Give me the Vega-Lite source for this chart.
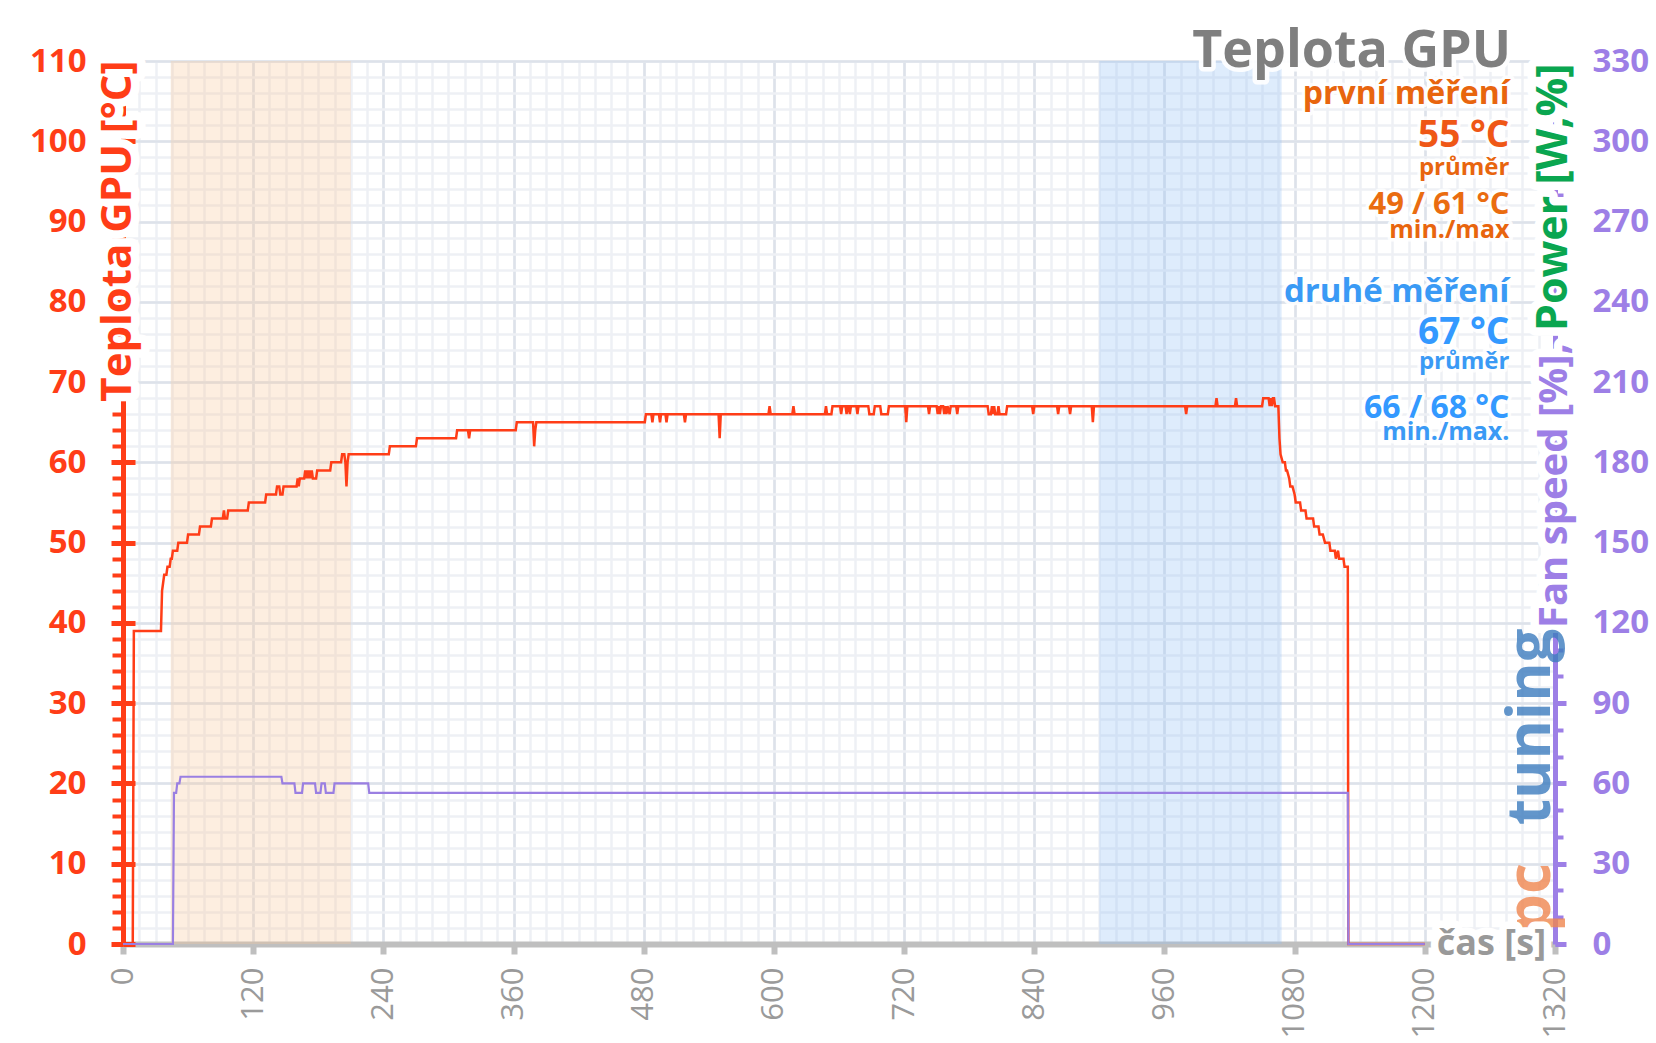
{
  "$schema": "https://vega.github.io/schema/vega-lite/v6.json",
  "width": 1432,
  "height": 883,
  "autosize": {"type": "none"},
  "padding": {"left": 123, "top": 61, "right": 101, "bottom": 99},
  "background": "white",
  "config": {"view": {"stroke": null}, "font": "Open Sans", "axis": {"labelFlush": false, "labelOverlap": false}},
  "datasets": {
    "temp": [
      {"t":0,"temp":0},{"t":9,"temp":0},{"t":10,"temp":39},{"t":35,"temp":39},{"t":36,"temp":44},{"t":37,"temp":45},{"t":38,"temp":46},{"t":40,"temp":46},{"t":41,"temp":47},{"t":43,"temp":47},{"t":44,"temp":48},{"t":45,"temp":48},{"t":46,"temp":49},{"t":50,"temp":49},{"t":51,"temp":50},{"t":59,"temp":50},{"t":60,"temp":51},{"t":70,"temp":51},{"t":71,"temp":52},{"t":81,"temp":52},{"t":82,"temp":53},{"t":92,"temp":53},{"t":93,"temp":54},{"t":94,"temp":53},{"t":96,"temp":53},{"t":97,"temp":54},{"t":115,"temp":54},{"t":116,"temp":55},{"t":131,"temp":55},{"t":132,"temp":56},{"t":141,"temp":56},{"t":142,"temp":57},{"t":144,"temp":57},{"t":145,"temp":56},{"t":147,"temp":56},{"t":148,"temp":57},{"t":160,"temp":57},{"t":161,"temp":58},{"t":162,"temp":57},{"t":163,"temp":58},{"t":167,"temp":58},{"t":168,"temp":59},{"t":169,"temp":58},{"t":170,"temp":59},{"t":171,"temp":58},{"t":172,"temp":59},{"t":173,"temp":58},{"t":174,"temp":59},{"t":175,"temp":58},{"t":178,"temp":58},{"t":179,"temp":59},{"t":191,"temp":59},{"t":192,"temp":60},{"t":201,"temp":60},{"t":202,"temp":61},{"t":204,"temp":61},{"t":205,"temp":60},{"t":206,"temp":57},{"t":207,"temp":60},{"t":208,"temp":61},{"t":245,"temp":61},{"t":246,"temp":62},{"t":270,"temp":62},{"t":271,"temp":63},{"t":307,"temp":63},{"t":308,"temp":64},{"t":318,"temp":64},{"t":319,"temp":63},{"t":320,"temp":64},{"t":362,"temp":64},{"t":363,"temp":65},{"t":378,"temp":65},{"t":379,"temp":62},{"t":380,"temp":64},{"t":381,"temp":65},{"t":481,"temp":65},{"t":482,"temp":66},{"t":487,"temp":66},{"t":488,"temp":65},{"t":489,"temp":66},{"t":494,"temp":66},{"t":495,"temp":65},{"t":496,"temp":66},{"t":500,"temp":66},{"t":501,"temp":65},{"t":502,"temp":66},{"t":517,"temp":66},{"t":518,"temp":65},{"t":519,"temp":66},{"t":549,"temp":66},{"t":550,"temp":63},{"t":551,"temp":66},{"t":595,"temp":66},{"t":596,"temp":67},{"t":597,"temp":66},{"t":617,"temp":66},{"t":618,"temp":67},{"t":619,"temp":66},{"t":647,"temp":66},{"t":648,"temp":67},{"t":649,"temp":66},{"t":653,"temp":66},{"t":654,"temp":67},{"t":661,"temp":67},{"t":662,"temp":66},{"t":663,"temp":67},{"t":666,"temp":67},{"t":667,"temp":66},{"t":668,"temp":67},{"t":669,"temp":67},{"t":670,"temp":66},{"t":671,"temp":67},{"t":676,"temp":67},{"t":677,"temp":66},{"t":678,"temp":67},{"t":687,"temp":67},{"t":688,"temp":66},{"t":692,"temp":66},{"t":693,"temp":67},{"t":698,"temp":67},{"t":699,"temp":66},{"t":705,"temp":66},{"t":706,"temp":67},{"t":721,"temp":67},{"t":722,"temp":65},{"t":723,"temp":67},{"t":742,"temp":67},{"t":743,"temp":66},{"t":744,"temp":67},{"t":750,"temp":67},{"t":751,"temp":66},{"t":752,"temp":67},{"t":753,"temp":66},{"t":754,"temp":67},{"t":756,"temp":67},{"t":757,"temp":66},{"t":758,"temp":67},{"t":759,"temp":66},{"t":760,"temp":67},{"t":762,"temp":66},{"t":763,"temp":67},{"t":768,"temp":67},{"t":769,"temp":66},{"t":770,"temp":67},{"t":797,"temp":67},{"t":798,"temp":66},{"t":800,"temp":66},{"t":801,"temp":67},{"t":802,"temp":66},{"t":803,"temp":67},{"t":804,"temp":66},{"t":806,"temp":66},{"t":807,"temp":67},{"t":808,"temp":66},{"t":814,"temp":66},{"t":815,"temp":67},{"t":838,"temp":67},{"t":839,"temp":66},{"t":840,"temp":67},{"t":861,"temp":67},{"t":862,"temp":66},{"t":863,"temp":67},{"t":872,"temp":67},{"t":873,"temp":66},{"t":874,"temp":67},{"t":893,"temp":67},{"t":894,"temp":65},{"t":895,"temp":67},{"t":979,"temp":67},{"t":980,"temp":66},{"t":981,"temp":67},{"t":1007,"temp":67},{"t":1008,"temp":68},{"t":1009,"temp":67},{"t":1025,"temp":67},{"t":1026,"temp":68},{"t":1027,"temp":67},{"t":1050,"temp":67},{"t":1051,"temp":68},{"t":1056,"temp":68},{"t":1057,"temp":67},{"t":1058,"temp":68},{"t":1059,"temp":67},{"t":1060,"temp":68},{"t":1061,"temp":68},{"t":1062,"temp":67},{"t":1065,"temp":67},{"t":1066,"temp":63},{"t":1067,"temp":61},{"t":1069,"temp":60},{"t":1071,"temp":60},{"t":1072,"temp":59},{"t":1073,"temp":59},{"t":1075,"temp":58},{"t":1076,"temp":57},{"t":1078,"temp":57},{"t":1080,"temp":56},{"t":1081,"temp":55},{"t":1085,"temp":55},{"t":1086,"temp":54},{"t":1090,"temp":54},{"t":1091,"temp":53},{"t":1097,"temp":53},{"t":1098,"temp":52},{"t":1102,"temp":52},{"t":1103,"temp":51},{"t":1106,"temp":51},{"t":1108,"temp":50},{"t":1112,"temp":50},{"t":1113,"temp":49},{"t":1117,"temp":49},{"t":1118,"temp":48},{"t":1120,"temp":49},{"t":1121,"temp":48},{"t":1125,"temp":48},{"t":1126,"temp":47},{"t":1129,"temp":47},{"t":1129.5,"temp":0},{"t":1200,"temp":0}
    ],
    "fan": [
      {"t":0,"fan":0},{"t":46,"fan":0},{"t":47,"fan":56.5},{"t":49,"fan":56.5},{"t":50,"fan":60},{"t":52,"fan":60},{"t":53,"fan":62.5},{"t":146,"fan":62.5},{"t":147,"fan":60},{"t":158,"fan":60},{"t":159,"fan":56.5},{"t":165,"fan":56.5},{"t":166,"fan":60},{"t":177,"fan":60},{"t":178,"fan":56.5},{"t":182,"fan":56.5},{"t":183,"fan":60},{"t":186,"fan":60},{"t":187,"fan":56.5},{"t":194,"fan":56.5},{"t":195,"fan":60},{"t":226,"fan":60},{"t":227,"fan":56.5},{"t":1129,"fan":56.5},{"t":1129.5,"fan":0},{"t":1200,"fan":0}
    ],
    "bands": [
      {"start": 44, "end": 210, "run": "první měření"},
      {"start": 900, "end": 1068, "run": "druhé měření"}
    ]
  },
  "resolve": {"scale": {"y": "independent"}, "axis": {"x": "independent", "y": "independent"}},
  "layer": [
    {
      "data": {"values": [{}]},
      "mark": {"type": "point", "opacity": 0},
      "encoding": {
        "x": {"datum": 0, "type": "quantitative", "scale": {"domain": [0, 1320], "nice": false, "zero": false},
          "axis": {"orient": "bottom", "values": [0,15,30,45,60,75,90,105,120,135,150,165,180,195,210,225,240,255,270,285,300,315,330,345,360,375,390,405,420,435,450,465,480,495,510,525,540,555,570,585,600,615,630,645,660,675,690,705,720,735,750,765,780,795,810,825,840,855,870,885,900,915,930,945,960,975,990,1005,1020,1035,1050,1065,1080,1095,1110,1125,1140,1155,1170,1185,1200,1215,1230,1245,1260,1275,1290,1305,1320],
            "grid": true, "gridColor": "#eef0f5", "gridWidth": 2.5, "labels": false, "ticks": false, "domain": false, "title": null}},
        "y": {"datum": 0, "type": "quantitative", "scale": {"domain": [0, 110], "nice": false},
          "axis": {"orient": "left", "values": [0,2,4,6,8,10,12,14,16,18,20,22,24,26,28,30,32,34,36,38,40,42,44,46,48,50,52,54,56,58,60,62,64,66,68,70,72,74,76,78,80,82,84,86,88,90,92,94,96,98,100,102,104,106,108,110],
            "grid": true, "gridColor": "#eef0f5", "gridWidth": 2.5, "labels": false, "ticks": true, "tickSize": 11, "tickWidth": 4, "tickColor": "#ff3d17", "domain": false, "title": null}}
      }
    },
    {
      "data": {"name": "bands"},
      "mark": {"type": "rect", "opacity": 0.3},
      "encoding": {
        "x": {"field": "start", "type": "quantitative", "scale": {"domain": [0, 1320], "nice": false, "zero": false}, "axis": null},
        "x2": {"field": "end"},
        "color": {"field": "run", "type": "nominal", "scale": {"domain": ["první měření", "druhé měření"], "range": ["#f8c698", "#91c0f5"]}, "legend": null}
      }
    },
    {
      "data": {"values": [{}]},
      "mark": {"type": "point", "opacity": 0},
      "encoding": {
        "x": {"datum": 0, "type": "quantitative", "scale": {"domain": [0, 1320], "nice": false, "zero": false}, "axis": null},
        "y": {"datum": 0, "type": "quantitative", "scale": {"domain": [0, 110], "nice": false},
          "axis": {"orient": "left", "values": [0,10,20,30,40,50,60,70,80,90,100,110], "grid": false, "labels": false, "ticks": true, "tickSize": -12, "tickWidth": 5, "tickColor": "#ff3d17", "domain": false, "title": null}}
      }
    },
    {
      "data": {"values": [{}]},
      "mark": {"type": "point", "opacity": 0},
      "encoding": {
        "x": {"datum": 0, "type": "quantitative", "scale": {"domain": [0, 1320], "nice": false, "zero": false}, "axis": null},
        "y": {"datum": 0, "type": "quantitative", "scale": {"domain": [0, 330], "nice": false},
          "axis": {"orient": "right", "values": [0,10,20,30,40,50,60,70,80,90,100,110,120,130,140,150,160,170,180,190,200,210,220,230,240,250,260,270,280,290,300,310,320,330], "grid": false, "labels": false, "ticks": true, "tickSize": 8, "tickWidth": 4, "tickColor": "#9d7fe6", "domain": false, "title": null}}
      }
    },
    {
      "data": {"name": "temp"},
      "mark": {"type": "line", "color": "#ff3d17", "strokeWidth": 2.5, "interpolate": "linear"},
      "encoding": {
        "x": {"field": "t", "type": "quantitative", "scale": {"domain": [0, 1320], "nice": false, "zero": false},
          "axis": {"orient": "bottom", "values": [0,120,240,360,480,600,720,840,960,1080,1200,1320], "format": "d", "grid": true, "gridColor": "#dde2ea", "gridWidth": 2.5,
            "domain": true, "domainColor": "#bfbfbf", "domainWidth": 6, "ticks": true, "tickColor": "#bfbfbf", "tickSize": 10, "tickWidth": 6,
            "labelAngle": 270, "labelColor": "#9a9a9a", "labelFont": "Open Sans", "labelFontSize": 31, "labelPadding": 13, "title": null}},
        "y": {"field": "temp", "type": "quantitative", "scale": {"domain": [0, 110], "nice": false},
          "axis": {"orient": "left", "values": [0,10,20,30,40,50,60,70,80,90,100,110], "grid": true, "gridColor": "#dde2ea", "gridWidth": 2.5,
            "domain": true, "domainColor": "#ff3d17", "domainWidth": 5, "ticks": true, "tickColor": "#ff3d17", "tickSize": 12, "tickWidth": 5,
            "labelColor": "#ff3d17", "labelFont": "Open Sans", "labelFontSize": 33, "labelFontWeight": "bold", "labelPadding": 25, "title": null}}
      }
    },
    {
      "data": {"name": "fan"},
      "mark": {"type": "line", "color": "#9a7fe2", "strokeWidth": 2.2, "interpolate": "linear"},
      "encoding": {
        "x": {"field": "t", "type": "quantitative", "scale": {"domain": [0, 1320], "nice": false, "zero": false}, "axis": null},
        "y": {"field": "fan", "type": "quantitative", "scale": {"domain": [0, 330], "nice": false},
          "axis": {"orient": "right", "values": [0,30,60,90,120,150,180,210,240,270,300,330], "grid": false,
            "domain": true, "domainColor": "#9d7fe6", "domainWidth": 5, "ticks": true, "tickColor": "#9d7fe6", "tickSize": 11, "tickWidth": 5,
            "labelColor": "#9d7fe6", "labelFont": "Open Sans", "labelFontSize": 33, "labelFontWeight": "bold", "labelPadding": 26, "title": null}}
      }
    },
    {
      "data": {"values": [{}]},
      "encoding": {
        "x": {"datum": 1279.5, "type": "quantitative", "scale": {"domain": [0, 1320], "nice": false, "zero": false}, "axis": null},
        "y": {"datum": 109.25, "type": "quantitative", "scale": {"domain": [0, 110], "nice": false}, "axis": null},
        "text": {"value": "Teplota GPU"}
      },
      "layer": [
        {"mark": {"type": "text", "align": "right", "baseline": "alphabetic", "font": "Open Sans", "fontSize": 52, "fontWeight": "bold", "color": "white", "stroke": "white", "strokeWidth": 9, "strokeJoin": "round", "strokeOpacity": 0.9}},
        {"mark": {"type": "text", "align": "right", "baseline": "alphabetic", "font": "Open Sans", "fontSize": 52, "fontWeight": "bold", "color": "#7f7f7f"}}
      ]
    },
    {
      "data": {"values": [{}]},
      "encoding": {
        "x": {"datum": 1278, "type": "quantitative", "scale": {"domain": [0, 1320], "nice": false, "zero": false}, "axis": null},
        "y": {"datum": 104.7, "type": "quantitative", "scale": {"domain": [0, 110], "nice": false}, "axis": null},
        "text": {"value": "první měření"}
      },
      "layer": [
        {"mark": {"type": "text", "align": "right", "baseline": "alphabetic", "font": "Open Sans", "fontSize": 32, "fontWeight": "bold", "color": "white", "stroke": "white", "strokeWidth": 7, "strokeJoin": "round", "strokeOpacity": 0.9}},
        {"mark": {"type": "text", "align": "right", "baseline": "alphabetic", "font": "Open Sans", "fontSize": 32, "fontWeight": "bold", "color": "#e8650e"}}
      ]
    },
    {
      "data": {"values": [{}]},
      "encoding": {
        "x": {"datum": 1278, "type": "quantitative", "scale": {"domain": [0, 1320], "nice": false, "zero": false}, "axis": null},
        "y": {"datum": 99.3, "type": "quantitative", "scale": {"domain": [0, 110], "nice": false}, "axis": null},
        "text": {"value": "55 °C"}
      },
      "layer": [
        {"mark": {"type": "text", "align": "right", "baseline": "alphabetic", "font": "Open Sans", "fontSize": 37, "fontWeight": "bold", "color": "white", "stroke": "white", "strokeWidth": 7, "strokeJoin": "round", "strokeOpacity": 0.9}},
        {"mark": {"type": "text", "align": "right", "baseline": "alphabetic", "font": "Open Sans", "fontSize": 37, "fontWeight": "bold", "color": "#ef5716"}}
      ]
    },
    {
      "data": {"values": [{}]},
      "encoding": {
        "x": {"datum": 1278, "type": "quantitative", "scale": {"domain": [0, 1320], "nice": false, "zero": false}, "axis": null},
        "y": {"datum": 95.8, "type": "quantitative", "scale": {"domain": [0, 110], "nice": false}, "axis": null},
        "text": {"value": "průměr"}
      },
      "layer": [
        {"mark": {"type": "text", "align": "right", "baseline": "alphabetic", "font": "Open Sans", "fontSize": 24, "fontWeight": "bold", "color": "white", "stroke": "white", "strokeWidth": 7, "strokeJoin": "round", "strokeOpacity": 0.9}},
        {"mark": {"type": "text", "align": "right", "baseline": "alphabetic", "font": "Open Sans", "fontSize": 24, "fontWeight": "bold", "color": "#e8650e"}}
      ]
    },
    {
      "data": {"values": [{}]},
      "encoding": {
        "x": {"datum": 1278, "type": "quantitative", "scale": {"domain": [0, 1320], "nice": false, "zero": false}, "axis": null},
        "y": {"datum": 91.0, "type": "quantitative", "scale": {"domain": [0, 110], "nice": false}, "axis": null},
        "text": {"value": "49 / 61 °C"}
      },
      "layer": [
        {"mark": {"type": "text", "align": "right", "baseline": "alphabetic", "font": "Open Sans", "fontSize": 31, "fontWeight": "bold", "color": "white", "stroke": "white", "strokeWidth": 7, "strokeJoin": "round", "strokeOpacity": 0.9}},
        {"mark": {"type": "text", "align": "right", "baseline": "alphabetic", "font": "Open Sans", "fontSize": 31, "fontWeight": "bold", "color": "#ea6c10"}}
      ]
    },
    {
      "data": {"values": [{}]},
      "encoding": {
        "x": {"datum": 1278, "type": "quantitative", "scale": {"domain": [0, 1320], "nice": false, "zero": false}, "axis": null},
        "y": {"datum": 88.0, "type": "quantitative", "scale": {"domain": [0, 110], "nice": false}, "axis": null},
        "text": {"value": "min./max"}
      },
      "layer": [
        {"mark": {"type": "text", "align": "right", "baseline": "alphabetic", "font": "Open Sans", "fontSize": 25, "fontWeight": "bold", "color": "white", "stroke": "white", "strokeWidth": 7, "strokeJoin": "round", "strokeOpacity": 0.9}},
        {"mark": {"type": "text", "align": "right", "baseline": "alphabetic", "font": "Open Sans", "fontSize": 25, "fontWeight": "bold", "color": "#e8650e"}}
      ]
    },
    {
      "data": {"values": [{}]},
      "encoding": {
        "x": {"datum": 1278, "type": "quantitative", "scale": {"domain": [0, 1320], "nice": false, "zero": false}, "axis": null},
        "y": {"datum": 80.0, "type": "quantitative", "scale": {"domain": [0, 110], "nice": false}, "axis": null},
        "text": {"value": "druhé měření"}
      },
      "layer": [
        {"mark": {"type": "text", "align": "right", "baseline": "alphabetic", "font": "Open Sans", "fontSize": 33, "fontWeight": "bold", "color": "white", "stroke": "white", "strokeWidth": 7, "strokeJoin": "round", "strokeOpacity": 0.9}},
        {"mark": {"type": "text", "align": "right", "baseline": "alphabetic", "font": "Open Sans", "fontSize": 33, "fontWeight": "bold", "color": "#3a9af5"}}
      ]
    },
    {
      "data": {"values": [{}]},
      "encoding": {
        "x": {"datum": 1278, "type": "quantitative", "scale": {"domain": [0, 1320], "nice": false, "zero": false}, "axis": null},
        "y": {"datum": 74.8, "type": "quantitative", "scale": {"domain": [0, 110], "nice": false}, "axis": null},
        "text": {"value": "67 °C"}
      },
      "layer": [
        {"mark": {"type": "text", "align": "right", "baseline": "alphabetic", "font": "Open Sans", "fontSize": 37, "fontWeight": "bold", "color": "white", "stroke": "white", "strokeWidth": 7, "strokeJoin": "round", "strokeOpacity": 0.9}},
        {"mark": {"type": "text", "align": "right", "baseline": "alphabetic", "font": "Open Sans", "fontSize": 37, "fontWeight": "bold", "color": "#3399ff"}}
      ]
    },
    {
      "data": {"values": [{}]},
      "encoding": {
        "x": {"datum": 1278, "type": "quantitative", "scale": {"domain": [0, 1320], "nice": false, "zero": false}, "axis": null},
        "y": {"datum": 71.6, "type": "quantitative", "scale": {"domain": [0, 110], "nice": false}, "axis": null},
        "text": {"value": "průměr"}
      },
      "layer": [
        {"mark": {"type": "text", "align": "right", "baseline": "alphabetic", "font": "Open Sans", "fontSize": 24, "fontWeight": "bold", "color": "white", "stroke": "white", "strokeWidth": 7, "strokeJoin": "round", "strokeOpacity": 0.9}},
        {"mark": {"type": "text", "align": "right", "baseline": "alphabetic", "font": "Open Sans", "fontSize": 24, "fontWeight": "bold", "color": "#3a9af5"}}
      ]
    },
    {
      "data": {"values": [{}]},
      "encoding": {
        "x": {"datum": 1278, "type": "quantitative", "scale": {"domain": [0, 1320], "nice": false, "zero": false}, "axis": null},
        "y": {"datum": 65.5, "type": "quantitative", "scale": {"domain": [0, 110], "nice": false}, "axis": null},
        "text": {"value": "66 / 68 °C"}
      },
      "layer": [
        {"mark": {"type": "text", "align": "right", "baseline": "alphabetic", "font": "Open Sans", "fontSize": 32, "fontWeight": "bold", "color": "white", "stroke": "white", "strokeWidth": 7, "strokeJoin": "round", "strokeOpacity": 0.9}},
        {"mark": {"type": "text", "align": "right", "baseline": "alphabetic", "font": "Open Sans", "fontSize": 32, "fontWeight": "bold", "color": "#3399ff"}}
      ]
    },
    {
      "data": {"values": [{}]},
      "encoding": {
        "x": {"datum": 1278, "type": "quantitative", "scale": {"domain": [0, 1320], "nice": false, "zero": false}, "axis": null},
        "y": {"datum": 62.8, "type": "quantitative", "scale": {"domain": [0, 110], "nice": false}, "axis": null},
        "text": {"value": "min./max."}
      },
      "layer": [
        {"mark": {"type": "text", "align": "right", "baseline": "alphabetic", "font": "Open Sans", "fontSize": 25, "fontWeight": "bold", "color": "white", "stroke": "white", "strokeWidth": 7, "strokeJoin": "round", "strokeOpacity": 0.9}},
        {"mark": {"type": "text", "align": "right", "baseline": "alphabetic", "font": "Open Sans", "fontSize": 25, "fontWeight": "bold", "color": "#3a9af5"}}
      ]
    },
    {
      "data": {"values": [{}]},
      "encoding": {
        "x": {"datum": 0, "type": "quantitative", "scale": {"domain": [0, 1320], "nice": false, "zero": false}, "axis": null},
        "y": {"datum": 88.8, "type": "quantitative", "scale": {"domain": [0, 110], "nice": false}, "axis": null},
        "text": {"value": "Teplota GPU [°C]"}
      },
      "layer": [
        {"mark": {"type": "text", "align": "center", "baseline": "alphabetic", "angle": 270, "dy": 8, "font": "Open Sans", "fontSize": 42, "fontWeight": "bold", "color": "white", "stroke": "white", "strokeWidth": 17, "strokeJoin": "round", "strokeOpacity": 1}},
        {"mark": {"type": "text", "align": "center", "baseline": "alphabetic", "angle": 270, "dy": 8, "font": "Open Sans", "fontSize": 42, "fontWeight": "bold", "color": "#ff3d17"}}
      ]
    },
    {
      "data": {"values": [{}]},
      "encoding": {
        "x": {"datum": 1320, "type": "quantitative", "scale": {"domain": [0, 1320], "nice": false, "zero": false}, "axis": null},
        "y": {"datum": 74.85, "type": "quantitative", "scale": {"domain": [0, 110], "nice": false}, "axis": null},
        "text": {"value": "Fan speed [%],"}
      },
      "layer": [
        {"mark": {"type": "text", "align": "right", "baseline": "alphabetic", "angle": 270, "dy": 12, "font": "Open Sans", "fontSize": 40, "fontWeight": "bold", "color": "white", "stroke": "white", "strokeWidth": 17, "strokeJoin": "round", "strokeOpacity": 1}},
        {"mark": {"type": "text", "align": "right", "baseline": "alphabetic", "angle": 270, "dy": 12, "font": "Open Sans", "fontSize": 40, "fontWeight": "bold", "color": "#9d7fe6"}}
      ]
    },
    {
      "data": {"values": [{}]},
      "encoding": {
        "x": {"datum": 1320, "type": "quantitative", "scale": {"domain": [0, 1320], "nice": false, "zero": false}, "axis": null},
        "y": {"datum": 76.35, "type": "quantitative", "scale": {"domain": [0, 110], "nice": false}, "axis": null},
        "text": {"value": "Power [W,%]"}
      },
      "layer": [
        {"mark": {"type": "text", "align": "left", "baseline": "alphabetic", "angle": 270, "dy": 12, "font": "Open Sans", "fontSize": 43, "fontWeight": "bold", "color": "white", "stroke": "white", "strokeWidth": 17, "strokeJoin": "round", "strokeOpacity": 1}},
        {"mark": {"type": "text", "align": "left", "baseline": "alphabetic", "angle": 270, "dy": 12, "font": "Open Sans", "fontSize": 43, "fontWeight": "bold", "color": "#0aa650"}}
      ]
    },
    {
      "data": {"values": [{}]},
      "encoding": {
        "x": {"datum": 1320, "type": "quantitative", "scale": {"domain": [0, 1320], "nice": false, "zero": false}, "axis": null},
        "y": {"datum": 1.5, "type": "quantitative", "scale": {"domain": [0, 110], "nice": false}, "axis": null},
        "text": {"value": "pc"}
      },
      "mark": {"type": "text", "align": "left", "baseline": "alphabetic", "angle": 270, "dy": -5, "font": "Open Sans", "fontSize": 60, "fontWeight": "bold", "color": "#f0864f", "opacity": 0.8}
    },
    {
      "data": {"values": [{}]},
      "encoding": {
        "x": {"datum": 1320, "type": "quantitative", "scale": {"domain": [0, 1320], "nice": false, "zero": false}, "axis": null},
        "y": {"datum": 39.3, "type": "quantitative", "scale": {"domain": [0, 110], "nice": false}, "axis": null},
        "text": {"value": "tuning"}
      },
      "mark": {"type": "text", "align": "right", "baseline": "alphabetic", "angle": 270, "dy": -5, "font": "Open Sans", "fontSize": 60, "fontWeight": "bold", "color": "#3d7dbf", "opacity": 0.8}
    },
    {
      "data": {"values": [{}]},
      "encoding": {
        "x": {"datum": 1261.4, "type": "quantitative", "scale": {"domain": [0, 1320], "nice": false, "zero": false}, "axis": null},
        "y": {"datum": 0, "type": "quantitative", "scale": {"domain": [0, 110], "nice": false}, "axis": null},
        "text": {"value": "čas [s]"}
      },
      "layer": [
        {"mark": {"type": "text", "align": "center", "baseline": "alphabetic", "dy": 11, "font": "Open Sans", "fontSize": 36, "fontWeight": "bold", "color": "white", "stroke": "white", "strokeWidth": 15, "strokeJoin": "round", "strokeOpacity": 1}},
        {"mark": {"type": "text", "align": "center", "baseline": "alphabetic", "dy": 11, "font": "Open Sans", "fontSize": 36, "fontWeight": "bold", "color": "#999999"}}
      ]
    }
  ]
}
